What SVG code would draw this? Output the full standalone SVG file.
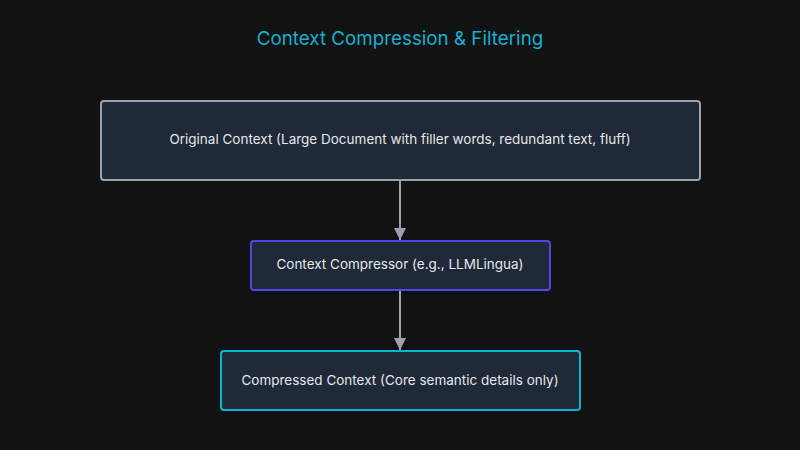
<svg xmlns="http://www.w3.org/2000/svg" width="800" height="450" viewBox="0 0 800 450">
<defs>
<style>
.node{fill:#1f2937;stroke-width:2}
.lbl{font-family:Inter,"Liberation Sans",sans-serif;font-size:13.5px;fill:#e5e7eb;text-anchor:middle;dominant-baseline:central}
.edge{stroke:#9ca3af;stroke-width:2;fill:none}
</style>
<marker id="arr" viewBox="0 0 10 10" refX="10" refY="5" markerWidth="6" markerHeight="6" markerUnits="strokeWidth" orient="auto">
<path d="M0,0 L10,5 L0,10 z" fill="#9ca3af"/>
</marker>
</defs>
<rect width="800" height="450" fill="#121212"/>
<text x="400" y="38" font-family="Inter,'Liberation Sans',sans-serif" font-size="18.8" fill="#14b0d3" text-anchor="middle" dominant-baseline="central">Context Compression &amp; Filtering</text>
<g id="connectors">
<line class="edge" x1="400" y1="181" x2="400" y2="240" marker-end="url(#arr)"/>
<line class="edge" x1="400" y1="291" x2="400" y2="350" marker-end="url(#arr)"/>
</g>
<g id="original">
<rect class="node" x="101" y="101" width="599" height="79" rx="3" stroke="#9ca3af"/>
<text class="lbl" x="400" y="139">Original Context (Large Document with filler words, redundant text, fluff)</text>
</g>
<g id="compressor">
<rect class="node" x="251" y="241" width="299" height="49" rx="3" stroke="#4f46e5"/>
<text class="lbl" x="400" y="264">Context Compressor (e.g., LLMLingua)</text>
</g>
<g id="compressed">
<rect class="node" x="221" y="351" width="359" height="59" rx="3" stroke="#06b6d4"/>
<text class="lbl" x="400" y="380">Compressed Context (Core semantic details only)</text>
</g>
</svg>
